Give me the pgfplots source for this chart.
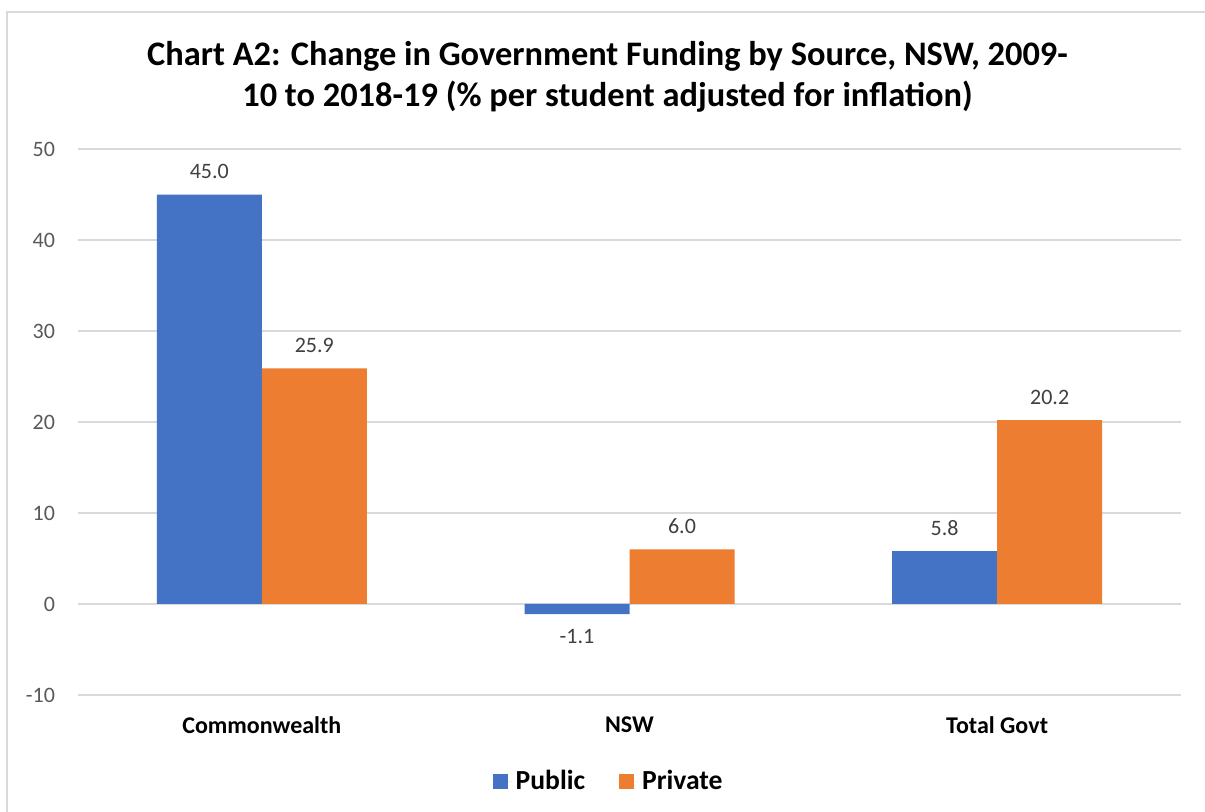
\documentclass[border=0pt]{standalone}
\usepackage{pgfplots}
\pgfplotsset{compat=1.18}
\usepackage{fontspec}
\setmainfont{Carlito}
\definecolor{cblue}{HTML}{4472C4}
\definecolor{corange}{HTML}{ED7D31}
\definecolor{cgrid}{HTML}{D9D9D9}
\definecolor{ctick}{HTML}{595959}
\definecolor{clabel}{HTML}{404040}
\begin{document}
\begin{tikzpicture}
\useasboundingbox (0,0) rectangle (602.5pt,406pt);
\fill[white] (0,0) rectangle (602.5pt,406pt);
\draw[cgrid, line width=0.9pt] (3.5pt,-2pt) -- (3.5pt,400pt) -- (610pt,400pt);
\begin{axis}[
  at={(39pt,58.5pt)}, anchor=south west,
  scale only axis, width=551.5pt, height=273pt,
  ybar=0pt, bar width=52.5pt,
  xmin=-0.5, xmax=2.5, ymin=-10, ymax=50,
  ytick={-10,0,...,50},
  xtick={0,1,2},
  xticklabels={Commonwealth,NSW,Total Govt},
  major tick length=0pt,
  axis line style={draw=none},
  ymajorgrids, grid style={cgrid, line width=0.75pt},
  /pgf/number format/assume math mode=true,
  yticklabel style={font=\fontsize{11}{13}\selectfont, text=ctick, xshift=-8pt},
  xticklabel style={font=\fontsize{12}{14}\selectfont\bfseries, text=black, yshift=-7.5pt},
  nodes near coords,
  nodes near coords style={font=\fontsize{11}{13}\selectfont, text=clabel, inner sep=7.5pt,
    /pgf/number format/.cd, fixed, fixed zerofill, precision=1, assume math mode=true},
  legend columns=2,
  legend style={at={(0.482,-0.159)}, anchor=center, draw=none,
    font=\fontsize{13.8}{15}\selectfont\bfseries,
    /tikz/every even column/.append style={column sep=15pt}},
  legend image code/.code={\fill[#1] (0pt,-3.75pt) rectangle (7.5pt,3.75pt);
    \path (0pt,0pt) -- (9.5pt,0pt);},
]
\addplot[fill=cblue, draw=none] coordinates {(0,45.0) (1,-1.1) (2,5.8)};
\addplot[fill=corange, draw=none] coordinates {(0,25.9) (1,6.0) (2,20.2)};
\legend{Public,Private}
\end{axis}
\node[font=\fontsize{17.2}{20.5}\selectfont\bfseries, align=center] at (303.75pt,367.5pt)
  {Chart A2: Change in Government Funding by Source, NSW, 2009-\\10 to 2018-19 (\% per student adjusted for inflation)};
\end{tikzpicture}
\end{document}
